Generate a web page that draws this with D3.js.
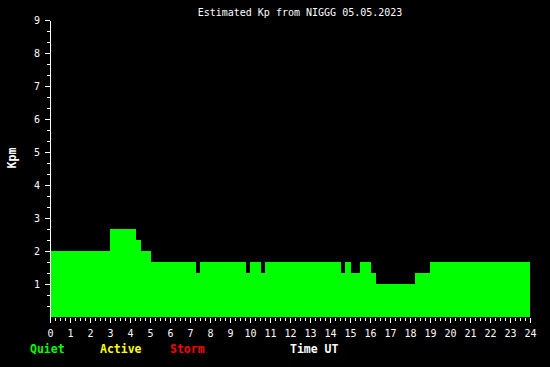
<!DOCTYPE html>
<html>
<head>
<meta charset="utf-8">
<script src="https://cdn.jsdelivr.net/npm/d3@7"></script>
<style>
  html, body { margin: 0; padding: 0; background: #000; }
  svg { display: block; }
  text { font-family: "DejaVu Sans Mono", monospace; fill: #fff; }
</style>
</head>
<body>
<svg id="chart" width="550" height="367"></svg>
<script>
// step starts (hours UT) and estimated Kp for each step
const stepStart = [0, 3.0, 4.3, 4.55, 5.05, 7.3, 7.5, 9.8, 10.0, 10.55, 10.75, 14.55, 14.75, 15.05, 15.5, 16.05, 16.3, 18.25, 19.0];
const kpValues = [2, 2.67, 2.33, 2, 1.67, 1.33, 1.67, 1.33, 1.67, 1.33, 1.67, 1.33, 1.67, 1.33, 1.67, 1.33, 1.0, 1.33, 1.67];
const dayEnd = 24;

const hourTicks = d3.range(0, 25);
const kpTicks = d3.range(1, 10);
const legendItems = ["Quiet", "Active", "Storm"];
const legendColors = ["#00ff00", "#ffff00", "#ff0000"];
const title = "Estimated Kp from NIGGG 05.05.2023";

const svg = d3.select("#chart");
const x = d3.scaleLinear().domain([0, 24]).range([50, 530]);
const y = d3.scaleLinear().domain([0, 9]).range([317, 20]);

const kpColor = v => v < 4 ? legendColors[0] : v < 5 ? legendColors[1] : legendColors[2];

const steps = stepStart.map((s, i) => ({
  start: s,
  end: i < stepStart.length - 1 ? stepStart[i + 1] : dayEnd,
  kp: kpValues[i]
}));

svg.append("g")
  .attr("shape-rendering", "crispEdges")
  .selectAll("rect")
  .data(steps)
  .join("rect")
  .attr("x", d => x(d.start))
  .attr("width", d => x(d.end) - x(d.start))
  .attr("y", d => y(d.kp))
  .attr("height", d => y(0) - y(d.kp))
  .attr("fill", d => kpColor(d.kp));

// x axis: ticks only, no line
const xMinor = d3.range(0, 24 * 4 + 1).map(i => i / 4).filter(v => v % 1 !== 0);
const gx = svg.append("g").attr("transform", "translate(0,318)").attr("shape-rendering", "crispEdges");
gx.append("g")
  .call(d3.axisBottom(x).tickValues(xMinor).tickSize(3).tickFormat(""))
  .call(g => g.select(".domain").remove());
gx.append("g")
  .call(d3.axisBottom(x).tickValues(hourTicks).tickSize(5).tickPadding(7).tickFormat(d3.format("d")))
  .call(g => g.select(".domain").remove());

// y axis
const yMinor = d3.range(1, 27).map(i => i / 3).filter(v => Math.abs(v - Math.round(v)) > 1e-6);
const gy = svg.append("g").attr("transform", "translate(50,0)").attr("shape-rendering", "crispEdges");
gy.append("g")
  .call(d3.axisLeft(y).tickValues(yMinor).tickSize(3).tickSizeOuter(0).tickFormat(""));
gy.append("g")
  .call(d3.axisLeft(y).tickValues(kpTicks).tickSize(5).tickSizeOuter(0).tickPadding(5).tickFormat(d3.format("d")))
  .call(g => g.select(".domain").remove());

svg.selectAll(".tick line, .domain").attr("stroke", "#fff");
svg.selectAll(".tick text")
  .attr("fill", "#fff")
  .attr("font-family", "DejaVu Sans Mono")
  .attr("font-size", 10);

svg.append("text")
  .attr("x", 300).attr("y", 16)
  .attr("text-anchor", "middle")
  .attr("font-size", 10)
  .text(title);

svg.append("text")
  .attr("transform", "translate(16,158) rotate(-90)")
  .attr("text-anchor", "middle")
  .attr("font-size", 11.5)
  .attr("font-weight", "bold")
  .text("Kpm");

svg.append("g")
  .selectAll("text")
  .data(legendItems)
  .join("text")
  .attr("x", (d, i) => 30 + i * 70)
  .attr("y", 353)
  .attr("font-size", 11.5)
  .attr("font-weight", "bold")
  .style("fill", (d, i) => legendColors[i])
  .text(d => d);

svg.append("text")
  .attr("x", 290).attr("y", 353)
  .attr("font-size", 11.5)
  .attr("font-weight", "bold")
  .text("Time UT");
</script>
</body>
</html>
